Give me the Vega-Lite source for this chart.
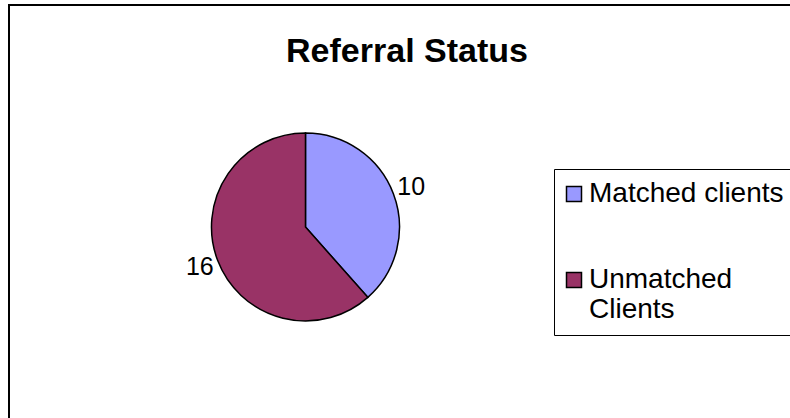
{
  "$schema": "https://vega.github.io/schema/vega-lite/v6.json",
  "width": 790,
  "height": 418,
  "autosize": {"type": "none"},
  "padding": {"left": 9, "top": 5, "right": 0, "bottom": 0},
  "background": "white",
  "title": {
    "text": "Referral Status",
    "fontSize": 34,
    "font": "Liberation Sans",
    "fontWeight": "bold",
    "color": "black",
    "anchor": "middle",
    "frame": "group",
    "offset": 0,
    "baseline": "middle",
    "dy": 81,
    "dx": 3
  },
  "data": {
    "values": [
      {"status": "Matched clients", "count": 10},
      {"status": "Unmatched Clients", "count": 16}
    ]
  },
  "encoding": {
    "theta": {"field": "count", "type": "quantitative", "stack": true},
    "x": {"datum": 0.3753, "type": "quantitative", "scale": {"domain": [0, 1], "nice": false, "zero": false}, "axis": null},
    "y": {"datum": 0.5311, "type": "quantitative", "scale": {"domain": [0, 1], "nice": false, "zero": false, "reverse": true}, "axis": null}
  },
  "layer": [
    {
      "mark": {"type": "arc", "outerRadius": 94, "stroke": "black", "strokeWidth": 1.5},
      "encoding": {
        "color": {
          "field": "status",
          "type": "nominal",
          "scale": {"domain": ["Matched clients", "Unmatched Clients"], "range": ["#9999FF", "#993366"]},
          "legend": {
            "orient": "none",
            "legendX": 545,
            "legendY": 164,
            "title": null,
            "strokeColor": "black",
            "fillColor": "white",
            "padding": 11,
            "symbolType": "square",
            "symbolSize": 225,
            "symbolStrokeColor": "black",
            "symbolStrokeWidth": 1.5,
            "symbolOpacity": 1,
            "symbolOffset": -5,
            "labelFont": "Liberation Sans",
            "labelFontSize": 28,
            "labelColor": "black",
            "labelOffset": 1,
            "labelLimit": 0,
            "rowPadding": 58,
            "labelExpr": "datum.label == 'Unmatched Clients' ? ['Unmatched', 'Clients'] : datum.label"
          }
        }
      }
    },
    {
      "mark": {"type": "text", "radius": 113, "fontSize": 25, "font": "Liberation Sans", "color": "black"},
      "encoding": {
        "text": {"field": "count", "type": "quantitative"},
        "detail": {"field": "status", "type": "nominal"}
      }
    }
  ],
  "config": {
    "view": {"stroke": "black", "strokeWidth": 2}
  }
}
